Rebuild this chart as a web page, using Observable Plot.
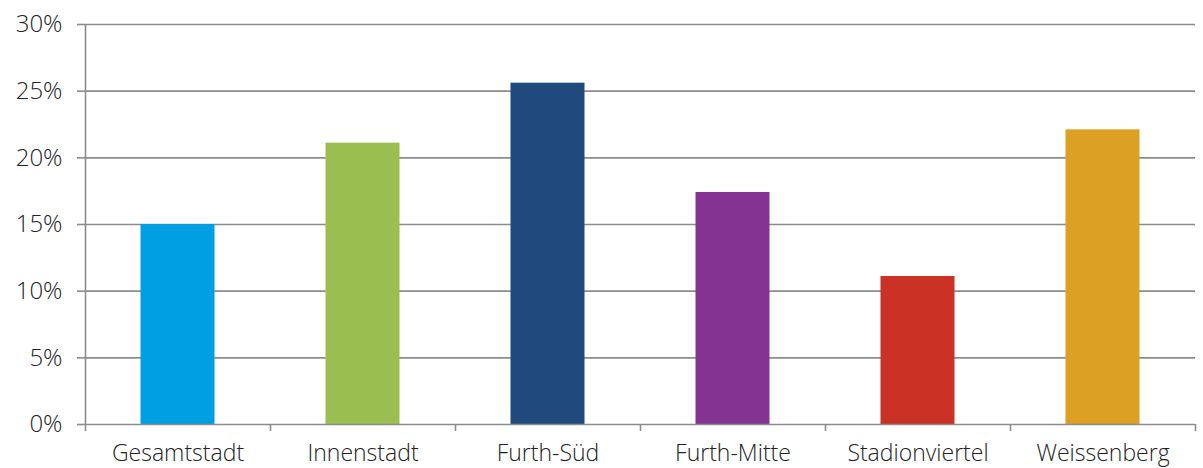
<!DOCTYPE html>
<html>
<head>
<meta charset="utf-8">
<script src="https://cdn.jsdelivr.net/npm/d3@7"></script>
<script src="https://cdn.jsdelivr.net/npm/@observablehq/plot@0.6"></script>
<style>
  html, body { margin: 0; padding: 0; background: #fff; }
  #chart svg { display: block; }
</style>
</head>
<body>
<div id="chart"></div>
<script>
// Share per district (fraction of 1)
const districts = ["Gesamtstadt", "Innenstadt", "Furth-Süd", "Furth-Mitte", "Stadionviertel", "Weissenberg"];
const shares = [0.150, 0.211, 0.256, 0.174, 0.111, 0.221];
const colors = ["#009fe3", "#9bbe51", "#204a7d", "#853393", "#c93224", "#dca024"];
const yTicks = [0, 0.05, 0.10, 0.15, 0.20, 0.25, 0.30];

// Each district occupies one unit on a linear x scale; bars sit in the middle 40%.
const rows = districts.map((name, i) => ({name, i, share: shares[i], color: colors[i]}));
const boundaries = d3.range(districts.length + 1);

const gridColor = "#8c8c8c";
const font = "'Open Sans', 'Noto Sans', sans-serif";

const chart = Plot.plot({
  width: 1203,
  height: 468,
  marginLeft: 85,
  marginRight: 8,
  marginTop: 24,
  marginBottom: 44,
  style: {fontFamily: font, fontSize: "24px", color: "#222", background: "#fff"},
  x: {domain: [0, districts.length], axis: null},
  y: {domain: [0, 0.30], axis: null},
  marks: [
    // horizontal grid
    Plot.ruleY(yTicks.slice(1), {stroke: gridColor, strokeWidth: 1.6}),
    // y axis ticks and labels
    Plot.axisY({
      ticks: yTicks,
      tickFormat: d => `${Math.round(d * 100)}%`,
      tickSize: 8,
      tickPadding: 15,
      stroke: gridColor,
      strokeWidth: 1.6,
      fontSize: 24,
      fontWeight: 300,
      label: null
    }),
    // bars
    Plot.rectY(rows, {
      x1: d => d.i + 0.3,
      x2: d => d.i + 0.7,
      y: "share",
      fill: "color"
    }),
    // baseline and y axis line
    Plot.ruleY([0], {stroke: gridColor, strokeWidth: 1.6}),
    Plot.ruleX([0], {y1: 0, y2: 0.30, stroke: gridColor, strokeWidth: 1.6}),
    // category boundary ticks
    Plot.axisX({
      ticks: boundaries,
      tickFormat: () => "",
      tickSize: 7,
      stroke: gridColor,
      strokeWidth: 1.6,
      label: null
    }),
    // category labels
    Plot.axisX({
      ticks: boundaries.slice(0, -1).map(i => i + 0.5),
      tickFormat: v => districts[Math.floor(v)],
      tickSize: 0,
      tickPadding: 20,
      fontSize: 23,
      fontWeight: 300,
      label: null
    })
  ]
});

document.getElementById("chart").append(chart);
</script>
</body>
</html>
